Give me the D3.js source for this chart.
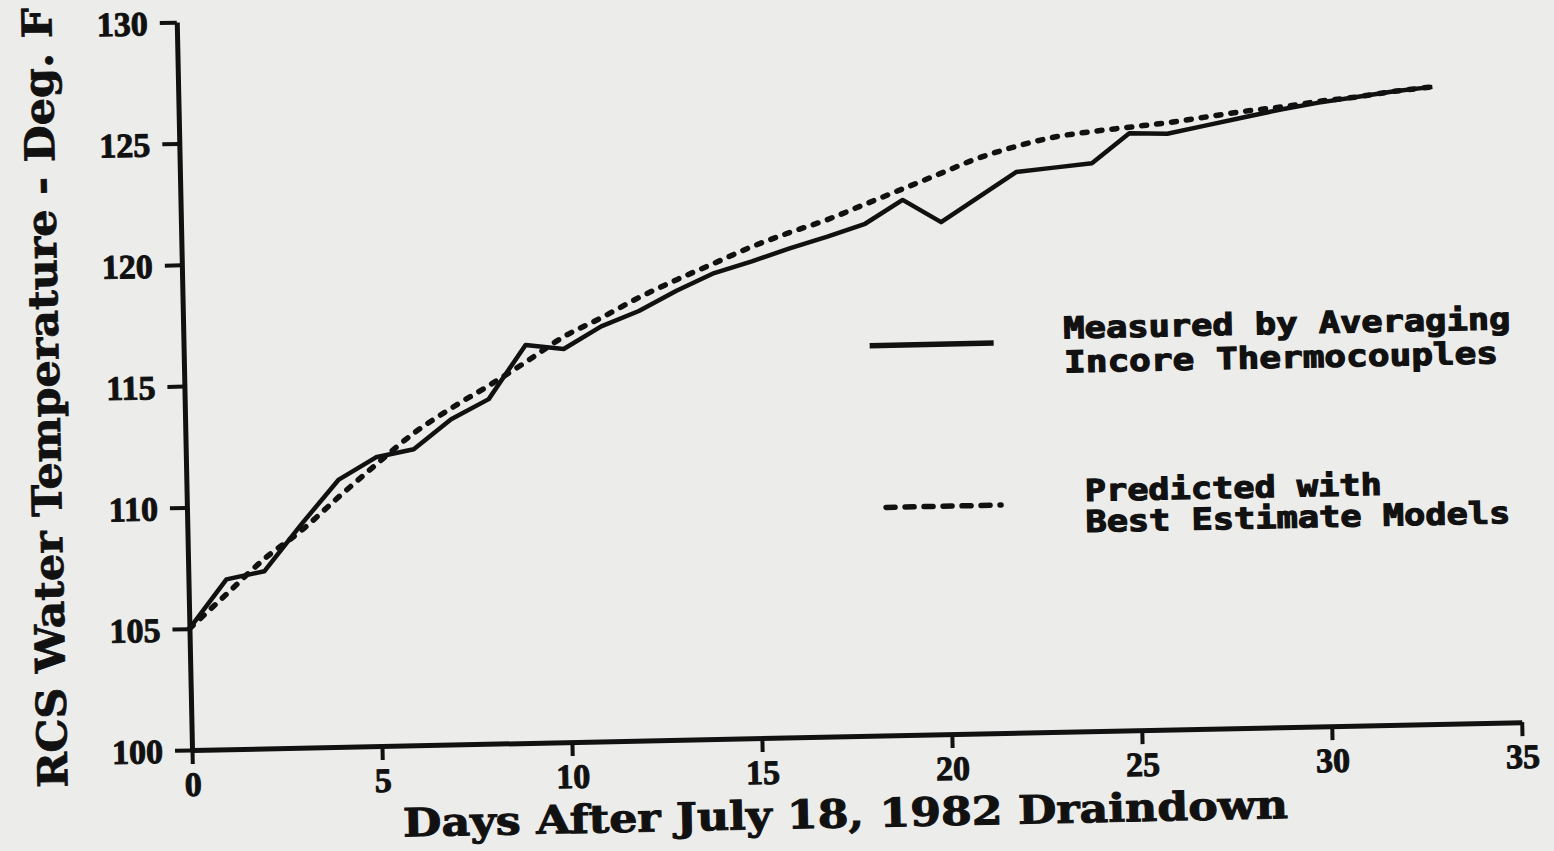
<!DOCTYPE html>
<html>
<head>
<meta charset="utf-8">
<script src="https://cdn.jsdelivr.net/npm/d3@7"></script>
<style>
  body { margin: 0; background: #ededeb; }
  svg { display: block; }
</style>
</head>
<body>
<div id="chart"></div>
<script>
var w = 1554, h = 851;

// data
var days = [0, 1, 2, 3, 4, 5, 6, 7, 8, 9, 10, 11, 12, 13, 14, 15, 16, 17, 18, 19, 20,
            21, 22, 23, 24, 25, 26, 27, 28, 29, 30, 31, 32, 33];
var measured = [105.0, 107.0, 107.3, 109.2, 111.0, 111.9, 112.2, 113.4, 114.2, 116.4, 116.2,
                117.1, 117.7, 118.5, 119.2, 119.65, 120.15, 120.6, 121.1, 122.05, 121.1,
                122.1, 123.1, 123.25, 123.4, 124.6, 124.55, 124.85, 125.15, 125.45, 125.7,
                125.9, 126.1, 126.25];
var predicted = [105.0, 106.4, 107.8, 108.95, 110.3, 111.6, 112.85, 113.85, 114.75, 115.7, 116.7,
                 117.45, 118.25, 118.95, 119.6, 120.25, 120.8, 121.3, 121.9, 122.5, 123.1,
                 123.7, 124.15, 124.5, 124.7, 124.85, 125.0, 125.2, 125.4, 125.55, 125.75,
                 125.9, 126.1, 126.25];
var xTicks = [0, 5, 10, 15, 20, 25, 30, 35];
var yTicks = [100, 105, 110, 115, 120, 125, 130];
var legendLabels = [["Measured by Averaging", "Incore Thermocouples"],
                    ["Predicted with", "Best Estimate Models"]];

var ink = "#111111";

var svg = d3.select("#chart").append("svg").attr("width", w).attr("height", h);
svg.append("rect").attr("width", w).attr("height", h).attr("fill", "#ececea");

// whole page is scanned slightly skewed
var g = svg.append("g").attr("transform", "translate(192,750) rotate(-1.2)");

var x = d3.scaleLinear().domain([0, 35]).range([0, 1330]);
var y = d3.scaleLinear().domain([100, 130]).range([0, -728]);

var xAxis = g.append("g")
    .call(d3.axisBottom(x).tickValues(xTicks).tickSize(14).tickSizeOuter(0).tickFormat(d3.format("d")));
var yAxis = g.append("g")
    .call(d3.axisLeft(y).tickValues(yTicks).tickSize(17).tickSizeOuter(0).tickFormat(d3.format("d")));

[xAxis, yAxis].forEach(function (a) {
    a.select(".domain").attr("stroke", ink).attr("stroke-width", 5);
    a.selectAll(".tick line").attr("stroke", ink).attr("stroke-width", 4);
    a.selectAll(".tick text").attr("fill", ink).attr("stroke", ink).attr("stroke-width", 1)
        .attr("font-family", "Liberation Serif").attr("font-weight", "bold").attr("font-size", "34px");
});
xAxis.selectAll(".tick text").attr("y", 34).attr("dy", "0.35em");
yAxis.selectAll(".tick text").attr("x", -29).attr("dy", "0.35em");

// curves
var measPts = days.map(function (d, i) { return [d, measured[i]]; });
var predPts = days.map(function (d, i) { return [d, predicted[i]]; });

var lineStraight = d3.line().x(function (d) { return x(d[0]); }).y(function (d) { return y(d[1]); });
var lineSmooth = d3.line().curve(d3.curveMonotoneX)
    .x(function (d) { return x(d[0]); }).y(function (d) { return y(d[1]); });

g.append("path").attr("d", lineSmooth(predPts))
    .attr("fill", "none").attr("stroke", ink).attr("stroke-width", 5.5)
    .attr("stroke-linecap", "round").attr("stroke-dasharray", "5 10");

g.append("path").attr("d", lineStraight(measPts))
    .attr("fill", "none").attr("stroke", ink).attr("stroke-width", 4.5)
    .attr("stroke-linejoin", "round");

// axis titles
g.append("text").attr("x", 652).attr("y", 77).attr("dy", "0.36em")
    .attr("text-anchor", "middle").attr("fill", ink).attr("stroke", ink).attr("stroke-width", 1)
    .attr("font-family", "DejaVu Serif").attr("font-weight", "bold").attr("font-size", "39px")
    .attr("textLength", 885).attr("lengthAdjust", "spacingAndGlyphs")
    .text("Days After July 18, 1982 Draindown");

g.append("text").attr("transform", "translate(-140,-355) rotate(-90)").attr("dy", "0.36em")
    .attr("text-anchor", "middle").attr("fill", ink).attr("stroke", ink).attr("stroke-width", 0.8)
    .attr("font-family", "DejaVu Serif").attr("font-weight", "bold").attr("font-size", "41px")
    .attr("textLength", 780).attr("lengthAdjust", "spacingAndGlyphs")
    .text("RCS Water Temperature - Deg. F");

// legend
var leg = [
    { x1: 686, x2: 810, ly: -390, dash: null, tx: 880, ty: [-404, -370], tw: [447, 434] },
    { x1: 695, x2: 818, ly: -228, dash: "9 10", tx: 898, ty: [-241, -210], tw: [297, 425] }
];
leg.forEach(function (l, i) {
    var ln = g.append("line").attr("x1", l.x1).attr("x2", l.x2).attr("y1", l.ly).attr("y2", l.ly)
        .attr("stroke", ink).attr("stroke-width", 5.5);
    if (l.dash) ln.attr("stroke-dasharray", l.dash).attr("stroke-linecap", "round")
        .attr("x1", l.x1 + 4).attr("x2", l.x2 - 4);
    legendLabels[i].forEach(function (s, j) {
        g.append("text").attr("x", l.tx).attr("y", l.ty[j]).attr("dy", "0.36em")
            .attr("fill", ink).attr("stroke", ink).attr("stroke-width", 1.2)
            .attr("font-family", "DejaVu Sans Mono").attr("font-weight", "bold")
            .attr("font-size", "30px").attr("textLength", l.tw[j]).attr("lengthAdjust", "spacingAndGlyphs")
            .text(s);
    });
});
</script>
</body>
</html>
